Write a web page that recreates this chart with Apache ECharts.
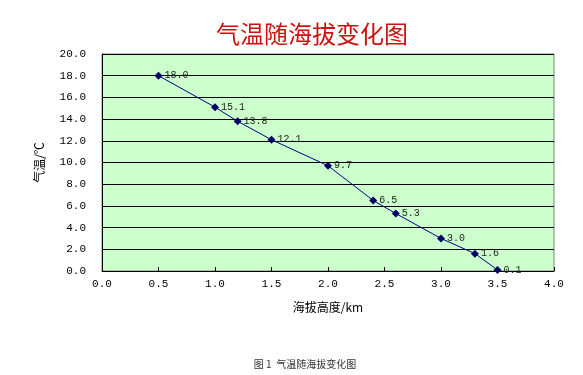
<!DOCTYPE html>
<html><head><meta charset="utf-8">
<script src="https://cdn.jsdelivr.net/npm/echarts@6/dist/echarts.min.js"></script>
<style>html,body{margin:0;padding:0;background:#fff}#c{width:583px;height:375px}</style>
</head><body><div id="c"></div>
<script>
var altitude = [0.5, 1.0, 1.2, 1.5, 2.0, 2.4, 2.6, 3.0, 3.3, 3.5];
var temperature = [18.0, 15.1, 13.8, 12.1, 9.7, 6.5, 5.3, 3.0, 1.6, 0.1];
var titleText = '气温随海拔变化图';
var xName = '海拔高度/km';
var yName = '气温/℃';
var caption = '图 1  气温随海拔变化图';

var cjk = '"Noto Sans CJK SC", sans-serif';
var mono = '"Liberation Mono", "DejaVu Sans Mono", monospace';
var chart = echarts.init(document.getElementById('c'), null, {renderer: 'canvas'});
chart.setOption({
  animation: false,
  backgroundColor: '#ffffff',
  title: [
    {text: titleText, left: 307, top: 17, textAlign: 'center', textStyle: {color: '#cc1111', fontSize: 24, fontWeight: 'normal', fontFamily: cjk}},
    {text: caption, left: 300, top: 354, textAlign: 'center', textStyle: {color: '#333', fontSize: 10, fontWeight: 'normal', fontFamily: cjk}}
  ],
  grid: {left: 102, right: 29, top: 54, bottom: 104, show: true, backgroundColor: '#ccffcc', borderColor: '#808080', borderWidth: 1},
  xAxis: {
    type: 'value', min: 0, max: 4, interval: 0.5,
    name: xName, nameLocation: 'middle', nameGap: 30,
    nameTextStyle: {color: '#000', fontSize: 12, fontFamily: cjk},
    axisLine: {show: true, lineStyle: {color: '#000', width: 1}},
    axisTick: {show: true, inside: true, length: 4, lineStyle: {color: '#000'}},
    axisLabel: {color: '#000', fontSize: 11, fontFamily: mono, margin: 8, formatter: function(v){return v.toFixed(1);}},
    splitLine: {show: false}
  },
  yAxis: {
    type: 'value', min: 0, max: 20, interval: 2,
    name: yName, nameLocation: 'middle', nameGap: 57, nameRotate: 90,
    nameTextStyle: {color: '#000', fontSize: 12, fontFamily: cjk},
    axisLine: {show: true, lineStyle: {color: '#000', width: 1}},
    axisTick: {show: false},
    axisLabel: {color: '#000', fontSize: 11, fontFamily: mono, margin: 16, formatter: function(v){return v.toFixed(1);}},
    splitLine: {show: true, lineStyle: {color: '#000', width: 1}}
  },
  series: [{
    type: 'line',
    data: altitude.map(function(a, i){return [a, temperature[i]];}),
    symbol: 'diamond', symbolSize: 8,
    lineStyle: {color: '#000080', width: 1},
    itemStyle: {color: '#000066'},
    label: {show: true, position: 'right', distance: 2, color: '#222', fontSize: 10, fontFamily: mono,
      formatter: function(p){return p.value[1].toFixed(1);}}
  }]
});
</script></body></html>
